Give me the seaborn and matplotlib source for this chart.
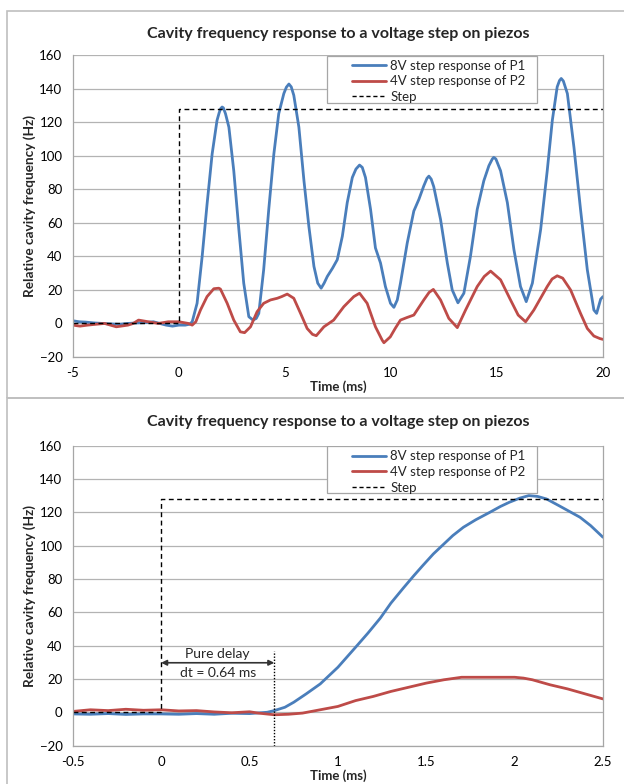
import matplotlib
matplotlib.use("Agg")
import matplotlib.pyplot as plt
import seaborn as sns
from matplotlib.patches import Rectangle
from matplotlib.lines import Line2D

# ---------------- data ----------------
title = "Cavity frequency response to a voltage step on piezos"
xlabel = "Time (ms)"
ylabel = "Relative cavity frequency (Hz)"
labels = ["8V step response of P1", "4V step response of P2", "Step"]

# top panel: -5 .. 20 ms
t1_p1 = [-5.0, -4.7, -4.4, -4.0, -3.6, -3.2, -2.8, -2.4, -2.0, -1.6,
         -1.2, -0.9, -0.6, -0.3, 0.0, 0.3, 0.5, 0.63, 0.86, 1.1,
         1.33, 1.57, 1.8, 1.9, 1.97, 2.04, 2.1, 2.2, 2.36, 2.59, 2.83, 3.06,
         3.3, 3.5, 3.65, 3.77, 4.0, 4.24, 4.48, 4.71, 4.95, 5.07, 5.19, 5.3,
         5.42, 5.66, 5.9, 6.13, 6.37, 6.55, 6.71, 6.85, 7.0, 7.25,
         7.47, 7.71, 7.94, 8.18, 8.35, 8.52, 8.65, 8.8, 9.04, 9.27, 9.51,
         9.74, 9.98, 10.14, 10.3, 10.45, 10.77, 11.08, 11.32, 11.55, 11.7, 11.79,
         11.9, 12.02, 12.34, 12.66, 12.89, 13.16, 13.44, 13.75, 14.07, 14.38, 14.62,
         14.78, 14.85, 14.95, 15.17, 15.49, 15.8, 16.11, 16.38, 16.67, 17.06, 17.37,
         17.61, 17.84, 17.95, 18.03, 18.13, 18.32, 18.63, 18.94, 19.26, 19.57, 19.7,
         19.89, 20.0]
p1_top = [1.6, 1.0, 0.8, 0.3, 0.0, -0.3, -0.5, 0.0, 0.3, 0.5,
          1.0, 0.0, -1.0, -1.6, -1.0, -1.0, -0.5, 1.0, 12, 40,
          71, 101, 121, 125.5, 128, 129, 128.5, 125, 117, 91, 56, 24,
          4, 2, 3, 6, 32, 68, 101, 125, 137, 140.8, 142.7, 141,
          136, 117, 85, 58, 34, 24, 21, 24, 28, 33,
          38, 52, 72, 87, 92, 94.4, 93, 87, 68, 45, 36,
          22, 12, 9.6, 14, 24, 48, 67, 74, 82, 86.5, 87.8,
          86, 81.5, 62, 36, 20, 12.3, 18, 40, 68, 85, 94,
          98, 99, 98, 91, 72, 44, 22, 13, 24, 56, 91,
          121, 141, 144.8, 146, 144.5, 137, 105, 68, 32, 8, 6,
          14.5, 16]

t1_p2 = [-5.0, -4.66, -4.3, -4.0, -3.5, -2.95, -2.4, -2.15, -1.9, -1.44,
         -0.97, -0.5, 0.0, 0.45, 0.63, 0.8, 1.02, 1.33, 1.65, 1.88,
         1.96, 2.28, 2.59, 2.9, 3.1, 3.38, 3.69, 4.0, 4.32, 4.64,
         4.85, 5.11, 5.42, 5.74, 6.05, 6.3, 6.48, 6.84, 7.3, 7.78,
         8.25, 8.52, 8.88, 9.27, 9.59, 9.67, 9.97, 10.2, 10.45, 10.75,
         11.08, 11.55, 11.8, 12.0, 12.34, 12.73, 13.13, 13.52, 14.07, 14.4,
         14.7, 15.17, 15.64, 16.0, 16.35, 16.74, 17.37, 17.6, 17.84, 18.1,
         18.47, 18.94, 19.26, 19.57, 19.85, 20.0]
p2_top = [-1, -1.6, -1, -0.6, 0, -2, -1, 0, 2, 1,
          0, 1, 1, 0, -1, 1, 8, 16, 20.7, 21,
          20.5, 12, 2, -5, -5.5, -2, 7, 12, 14, 15,
          16, 17.5, 15, 6, -3, -6.5, -7.3, -2, 2, 10,
          16, 18, 12, -2, -10, -11.5, -8, -3, 2, 3.5,
          5, 14, 18.5, 20.3, 14, 3, -2.5, 8, 22, 28,
          31.2, 26, 14, 5, 1, 8, 22, 26.5, 28.4, 27,
          20, 6, -3, -7.5, -9, -9.5]

step1_t = [-5, 0, 0, 20]
step1_v = [0, 0, 128, 128]

# bottom panel: -0.5 .. 2.5 ms
t2_p1 = [-0.5, -0.4, -0.3, -0.2, -0.1, 0.0, 0.1, 0.2, 0.3, 0.4,
         0.5, 0.6, 0.64, 0.7, 0.75, 0.82, 0.9, 0.95, 1.0, 1.05,
         1.1, 1.17, 1.24, 1.3, 1.37, 1.43, 1.48, 1.54, 1.6, 1.65,
         1.71, 1.78, 1.86, 1.92, 1.97, 2.03, 2.08, 2.13, 2.18, 2.25,
         2.31, 2.37, 2.43, 2.48, 2.5]
p1_bot = [-1.0, -1.2, -0.8, -1.3, -1.0, -1.0, -1.2, -0.8, -1.2, -0.6,
          -0.8, 0.0, 1.0, 3.0, 6.0, 11, 17, 22, 27, 33,
          39, 47.5, 56.5, 65.5, 74.5, 82, 88, 95, 101, 106,
          111, 115.5, 120, 123.5, 126, 128.5, 130, 129.5, 128, 124,
          120.5, 117, 112, 107, 105]

t2_p2 = [-0.5, -0.4, -0.3, -0.2, -0.1, 0.0, 0.1, 0.2, 0.3, 0.4,
         0.5, 0.55, 0.64, 0.72, 0.8, 0.9, 1.0, 1.1, 1.2, 1.3,
         1.4, 1.5, 1.6, 1.7, 1.8, 1.9, 2.0, 2.05, 2.1, 2.2,
         2.3, 2.4, 2.5]
p2_bot = [0.5, 1.5, 1.0, 1.8, 1.2, 1.5, 0.8, 1.0, 0.2, -0.3,
          0.3, -0.5, -1.5, -1.2, -0.5, 1.5, 3.5, 7.0, 9.5, 12.5,
          15, 17.5, 19.5, 21, 21, 21, 21, 20.5, 19.5, 16.5,
          14, 11, 8]

step2_t = [-0.5, 0, 0, 2.5]
step2_v = [0, 0, 128, 128]

delay = 0.64
delay_text = ["Pure delay", "dt = 0.64 ms"]

xticks1 = [-5, 0, 5, 10, 15, 20]
xticks2 = [-0.5, 0, 0.5, 1, 1.5, 2, 2.5]
yticks = [-20, 0, 20, 40, 60, 80, 100, 120, 140, 160]

# ---------------- styling ----------------
sns.set_theme(style="white")
plt.rcParams['font.family'] = ['Lato', 'DejaVu Sans']

BLUE = "#4A7EBB"
RED = "#BE4B48"
GRID = "#B3B3B3"
AX = "#A6A6A6"

W, H = 624, 784
fig = plt.figure(figsize=(W / 100, H / 100), dpi=100)

# panel frames
for (y0, y1) in [(11, 398), (398, 790)]:
    fig.patches.append(Rectangle((7 / W, 1 - y1 / H), (W + 10 - 7) / W, (y1 - y0) / H,
                                 transform=fig.transFigure, fill=False,
                                 edgecolor="#BFBFBF", lw=1.2, zorder=0))

ax1 = fig.add_axes([72.8 / W, 1 - 357 / H, (603 - 72.8) / W, 302 / H])
ax2 = fig.add_axes([72.8 / W, 1 - 745.6 / H, (603 - 72.8) / W, 300 / H])


def style(ax, xlim, xticks, xticklabels, tpad):
    ax.set_xlim(*xlim)
    ax.set_ylim(-20, 160)
    ax.set_xticks(xticks)
    ax.set_xticklabels(xticklabels)
    ax.set_yticks(yticks)
    ax.yaxis.grid(True, color=GRID, lw=0.9)
    ax.xaxis.grid(False)
    for s in ax.spines.values():
        s.set_color(AX)
        s.set_linewidth(0.9)
    ax.spines['top'].set_visible(False)
    ax.tick_params(axis='both', which='major', direction='out', length=4.5,
                   width=0.9, color=AX, labelsize=9.5, labelcolor='black', pad=3)
    ax.set_title(title, fontsize=11.5, fontweight='bold', pad=tpad)
    ax.set_xlabel(xlabel, fontsize=9.5, fontweight='bold', labelpad=1)
    ax.set_ylabel(ylabel, fontsize=9.8, fontweight='bold', labelpad=2)


def draw(ax, tp1, vp1, tp2, vp2, st, sv):
    sns.lineplot(x=tp1, y=vp1, ax=ax, color=BLUE, lw=2.0, estimator=None, sort=False)
    sns.lineplot(x=tp2, y=vp2, ax=ax, color=RED, lw=2.0, estimator=None, sort=False)
    sns.lineplot(x=st, y=sv, ax=ax, color='black', lw=1.0, estimator=None,
                 sort=False, linestyle=(0, (3.5, 2.5)))


def legend(ax):
    ax.add_patch(Rectangle((0.4794, 0.841), 0.396, 0.157, transform=ax.transAxes,
                           facecolor='white', edgecolor=AX, lw=0.9, zorder=4))
    handles = [Line2D([], [], color=BLUE, lw=2.0),
               Line2D([], [], color=RED, lw=2.0),
               Line2D([], [], color='black', lw=1.0, linestyle=(0, (3, 2)))]
    lg = ax.legend(handles, labels, loc='upper left',
                   bbox_to_anchor=((352 - 72.8) / 530.2, 0.984),
                   frameon=False, fontsize=9.5, borderpad=0, labelspacing=0.27,
                   handlelength=2.6, handletextpad=0.3, borderaxespad=0)
    lg.set_zorder(5)


draw(ax1, t1_p1, p1_top, t1_p2, p2_top, step1_t, step1_v)
style(ax1, (-5, 20), xticks1, [str(v) for v in xticks1], 12)
legend(ax1)

draw(ax2, t2_p1, p1_bot, t2_p2, p2_bot, step2_t, step2_v)
style(ax2, (-0.5, 2.5), xticks2, ["-0.5", "0", "0.5", "1", "1.5", "2", "2.5"], 14)
legend(ax2)

# pure delay annotation
ax2.plot([delay, delay], [-20, 37], color='black', lw=1.0, linestyle=(0, (1, 1.2)))
ax2.annotate("", xy=(0, 29.7), xytext=(delay, 29.7),
             arrowprops=dict(arrowstyle="<|-|>", color='#333333', lw=1.2,
                             shrinkA=0, shrinkB=0, mutation_scale=8))
ax2.text(delay / 2, 34.8, delay_text[0], ha='center', va='center', fontsize=10)
ax2.text(delay / 2, 23.3, delay_text[1], ha='center', va='center', fontsize=10)

fig.savefig("out.png", dpi=100)
